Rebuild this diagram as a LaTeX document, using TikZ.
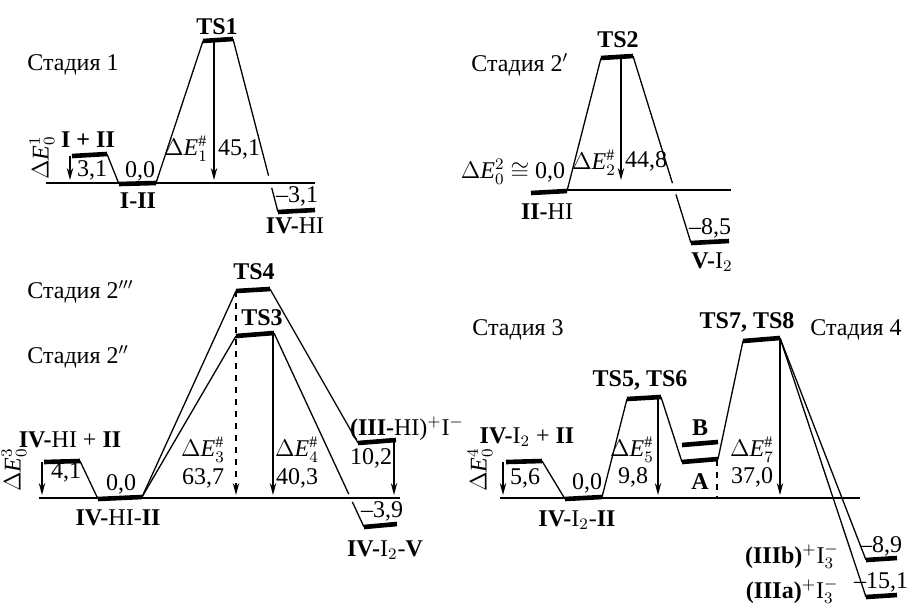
\documentclass[tikz,border=0pt]{standalone}
\usepackage{fontspec}
\setmainfont{Liberation Serif}
\usetikzlibrary{arrows.meta,calc}

\newcommand\dE[2]{$\Delta\mathit{E}^{#2}_{#1}$}

\tikzset{
    lvl/.style={line width=2.3pt},
    leg/.style={line width=0.65pt},
    barr/.style={->, line width=0.65pt},
    txt/.style={inner sep=0pt}
}

\begin{document}
\begin{tikzpicture}[x=0.5pt, y=-0.5pt, >={Stealth[length=6pt,width=3.2pt]},
    font=\fontsize{12}{14}\selectfont]
    \useasboundingbox (0,0) rectangle (909,606);

    % Стадия 1
    \node[txt, anchor=west] (st1) at (27,65) {Стадия 1};
    \coordinate (b1l) at (46,183);
    \coordinate (b1r) at (315,183);
    \draw[leg] (b1l) -- (b1r);

    \coordinate (r1a) at (72,156);   \coordinate (r1b) at (107,154);
    \coordinate (c1a) at (119,184);  \coordinate (c1b) at (156,183);
    \coordinate (t1a) at (203,41);   \coordinate (t1b) at (233,39);
    \coordinate (p1a) at (278,212);  \coordinate (p1b) at (315,210);

    \draw[lvl] (r1a) -- (r1b);
    \draw[lvl] (c1a) -- (c1b);
    \draw[lvl] (t1a) -- (t1b);
    \draw[lvl] (p1a) -- (p1b);

    \draw[leg] (r1b) -- (c1a);
    \draw[leg] (c1b) -- (t1a);
    \draw[leg] (t1b) -- ($(t1b)!0.79!(p1a)$);
    \draw[leg] ($(t1b)!0.86!(p1a)$) -- (p1a);

    \draw[barr] (70,156) -- (70,180);
    \draw[barr] (214,41) -- (214,180);

    \node[txt] (ts1) at (217,27) {\textbf{TS1}};
    \node[txt] (r1) at (88,140) {\textbf{I + II}};
    \node[txt, rotate=90] (e01) at (42,158) {\dE{0}{1}};
    \node[txt] (v31) at (92,170) {3,1};
    \node[txt] (v00a) at (140,171) {0,0};
    \node[txt] (c1) at (138,201) {\textbf{I-II}};
    \node[txt] (e1) at (186,149) {\dE{1}{\#}};
    \node[txt] (v451) at (239,149) {45,1};
    \node[txt] (vm31) at (297,196) {–3,1};
    \node[txt] (p1) at (295,226) {\textbf{IV-}HI};

    % Стадия 2'
    \node[txt, anchor=west] (st2) at (471,65) {Стадия 2$'$};
    \coordinate (b2l) at (567,190);
    \coordinate (b2r) at (731,190);
    \draw[leg] (b2l) -- (b2r);

    \coordinate (c2a) at (531,193);  \coordinate (c2b) at (567,191);
    \coordinate (t2a) at (601,58);   \coordinate (t2b) at (633,56);
    \coordinate (p2a) at (691,243);  \coordinate (p2b) at (729,241);

    \draw[lvl] (c2a) -- (c2b);
    \draw[lvl] (t2a) -- (t2b);
    \draw[lvl] (p2a) -- (p2b);

    \draw[leg] (c2b) -- (t2a);
    \draw[leg] (t2b) -- ($(t2b)!0.68!(p2a)$);
    \draw[leg] ($(t2b)!0.74!(p2a)$) -- (p2a);

    \draw[barr] (621,57) -- (621,180);

    \node[txt] (ts2) at (618,40) {\textbf{TS2}};
    \node[txt] (e02) at (513,172) {\dE{0}{2} $\cong$ 0,0};
    \node[txt] (e2) at (594,163) {\dE{2}{\#}};
    \node[txt] (v448) at (646,161) {44,8};
    \node[txt] (vm85) at (710,228) {–8,5};
    \node[txt] (p2) at (712,262) {\textbf{V-}I$_2$};
    \node[txt] (c2) at (547,212) {\textbf{II-}HI};

    % Стадия 2'' и 2'''
    \node[txt, anchor=west] (st2c) at (27,292) {Стадия 2$'''$};
    \node[txt, anchor=west] (st2b) at (27,357) {Стадия 2$''$};
    \coordinate (b3l) at (39,498);
    \coordinate (b3r) at (400,498);
    \draw[leg] (b3l) -- (b3r);

    \coordinate (r3a) at (44,462);   \coordinate (r3b) at (80,461);
    \coordinate (c3a) at (98,499);   \coordinate (c3b) at (142,497);
    \coordinate (t4a) at (236,291);  \coordinate (t4b) at (270,289);
    \coordinate (t3a) at (236,336);  \coordinate (t3b) at (274,333);
    \coordinate (q3a) at (358,443);  \coordinate (q3b) at (396,440);
    \coordinate (p3a) at (364,527);  \coordinate (p3b) at (397,524);

    \draw[lvl] (r3a) -- (r3b);
    \draw[lvl] (c3a) -- (c3b);
    \draw[lvl] (t4a) -- (t4b);
    \draw[lvl] (t3a) -- (t3b);
    \draw[lvl] (q3a) -- (q3b);
    \draw[lvl] (p3a) -- (p3b);

    \draw[leg] (r3b) -- (c3a);
    \draw[leg] (c3b) -- (t4a);
    \draw[leg] (c3b) -- (t3a);
    \draw[leg] (t4b) -- (q3a);
    \draw[leg] (t3b) -- ($(t3b)!0.83!(p3a)$);
    \draw[leg] ($(t3b)!0.87!(p3a)$) -- (p3a);

    \draw[barr] (42,462) -- (42,495);
    \draw[barr, dashed] (236,291) -- (236,495);
    \draw[barr] (273,335) -- (273,495);
    \draw[barr] (394,441) -- (394,495);

    \node[txt] (ts4) at (254,272) {\textbf{TS4}};
    \node[txt] (ts3) at (262,318) {\textbf{TS3}};
    \node[txt] (r3) at (70,440) {\textbf{IV-}HI + \textbf{II}};
    \node[txt, rotate=90] (e03) at (14,470) {\dE{0}{3}};
    \node[txt] (v41) at (66,472) {4,1};
    \node[txt] (v00b) at (121,484) {0,0};
    \node[txt] (c3) at (118,518) {\textbf{IV-}HI-\textbf{II}};
    \node[txt] (e3) at (203,450) {\dE{3}{\#}};
    \node[txt] (v637) at (203,478) {63,7};
    \node[txt] (e4) at (297,450) {\dE{4}{\#}};
    \node[txt] (v403) at (297,478) {40,3};
    \node[txt] (q3) at (407,429) {\textbf{(III-}HI)$^+$I$^-$};
    \node[txt] (v102) at (371,458) {10,2};
    \node[txt] (vm39) at (382,511) {–3,9};
    \node[txt] (p3) at (385,550) {\textbf{IV-}I$_2$-\textbf{V}};

    % Стадии 3 и 4
    \node[txt, anchor=west] (st3) at (472,330) {Стадия 3};
    \node[txt, anchor=west] (st4) at (810,330) {Стадия 4};
    \coordinate (b4l) at (500,498);
    \coordinate (b4r) at (860,498);
    \draw[leg] (b4l) -- (b4r);

    \coordinate (r4a) at (506,462);  \coordinate (r4b) at (542,461);
    \coordinate (c4a) at (565,499);  \coordinate (c4b) at (602,497);
    \coordinate (t5a) at (627,399);  \coordinate (t5b) at (661,397);
    \coordinate (ia) at (682,462);   \coordinate (ib) at (718,459);
    \coordinate (ja) at (682,445);   \coordinate (jb) at (718,442);
    \coordinate (t7a) at (743,341);  \coordinate (t7b) at (780,338);
    \coordinate (pba) at (866,560);  \coordinate (pbb) at (897,558);
    \coordinate (paa) at (866,597);  \coordinate (pab) at (897,595);

    \draw[lvl] (r4a) -- (r4b);
    \draw[lvl] (c4a) -- (c4b);
    \draw[lvl] (t5a) -- (t5b);
    \draw[lvl] (ia) -- (ib);
    \draw[lvl] (ja) -- (jb);
    \draw[lvl] (t7a) -- (t7b);
    \draw[lvl] (pba) -- (pbb);
    \draw[lvl] (paa) -- (pab);

    \draw[leg] (r4b) -- (c4a);
    \draw[leg] (c4b) -- (t5a);
    \draw[leg] (t5b) -- (ia);
    \draw[leg] (ib) -- (t7a);
    \draw[leg] (t7b) -- (pba);
    \draw[leg] (t7b) -- (paa);

    \draw[barr] (503,462) -- (503,495);
    \draw[barr] (658,397) -- (658,495);
    \draw[leg, dashed] (717,460) -- (717,498);
    \draw[barr] (780,339) -- (780,495);

    \node[txt] (ts7) at (747,322) {\textbf{TS7, TS8}};
    \node[txt] (ts5) at (640,380) {\textbf{TS5, TS6}};
    \node[txt] (lb) at (700,428) {\textbf{B}};
    \node[txt] (la) at (700,482) {\textbf{A}};
    \node[txt] (r4) at (527,437) {\textbf{IV-}I$_2$ + \textbf{II}};
    \node[txt, rotate=90] (e04) at (480,470) {\dE{0}{4}};
    \node[txt] (v56) at (525,478) {5,6};
    \node[txt] (v00c) at (587,483) {0,0};
    \node[txt] (c4) at (577,520) {\textbf{IV-}I$_2$-\textbf{II}};
    \node[txt] (e5) at (632,450) {\dE{5}{\#}};
    \node[txt] (v98) at (633,477) {9,8};
    \node[txt] (e7) at (752,450) {\dE{7}{\#}};
    \node[txt] (v370) at (752,477) {37,0};
    \node[txt] (vm89) at (881,546) {–8,9};
    \node[txt] (vm151) at (881,582) {–15,1};
    \node[txt] (pb) at (792,556) {\textbf{(IIIb)}$^+$I$^-_3$};
    \node[txt] (pa) at (792,591) {\textbf{(IIIa)}$^+$I$^-_3$};
\end{tikzpicture}
\end{document}
